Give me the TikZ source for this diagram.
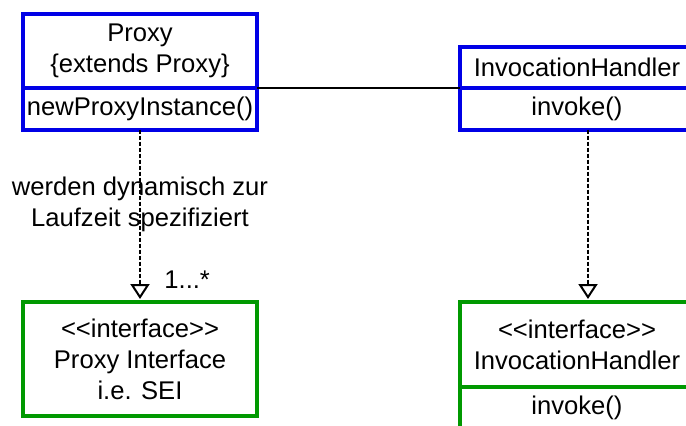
\documentclass[tikz,border=0pt]{standalone}
\usepackage{fontspec}
\setmainfont{Liberation Sans}
\usetikzlibrary{arrows.meta,positioning}
\definecolor{umlblue}{RGB}{0,0,230}
\definecolor{umlgreen}{RGB}{0,153,0}

\begin{document}
\begin{tikzpicture}[x=0.5pt,y=-0.5pt,
    every node/.style={font=\fontsize{12.8}{15.5}\selectfont,align=center},
    part/.style={draw,line width=2pt,minimum width=117pt,inner sep=0pt,outer sep=0pt},
    cls/.style={part,draw=umlblue},
    intf/.style={part,draw=umlgreen},
    dep/.style={line width=1pt,dash pattern=on 2pt off 1pt,
        -{Triangle[open,length=7.5pt,width=9.5pt]},shorten >=1.5pt}]
\useasboundingbox (0,0) rectangle (686,425);
\clip (0,0) rectangle (686,425);
\node[cls,minimum height=37pt] (proxy) at (140,51) {Proxy\\\{extends Proxy\}};
\node[cls,minimum height=20.75pt,below=0pt of proxy] (proxyops) {newProxyInstance()};
\node[cls,minimum height=20.5pt] (handler) at (577,67.5) {InvocationHandler};
\node[cls,minimum height=20.75pt,below=0pt of handler] (handlerops) {invoke()};
\node[intf,minimum height=57pt] (proxyif) at (140,359) {<{}<interface>{}>\\Proxy Interface\\i.e. SEI};
\node[intf,minimum height=42.5pt] (handlerif) at (577,344.5) {<{}<interface>{}>\\InvocationHandler};
\node[intf,minimum height=20.75pt,below=0pt of handlerif] (handlerifops) {invoke()};
\draw[line width=1pt] (proxy.south east) -- (handler.south west);
\draw[dep] (proxyops) -- (proxyif);
\draw[dep] ([xshift=5.5pt]handlerops.south) -- ([xshift=5.5pt]handlerif.north);
\node (note) at (140,204) {werden dynamisch zur\\Laufzeit spezifiziert};
\node[anchor=base west,inner sep=0pt] (mult) at (164,288) {1...*};
\end{tikzpicture}
\end{document}
